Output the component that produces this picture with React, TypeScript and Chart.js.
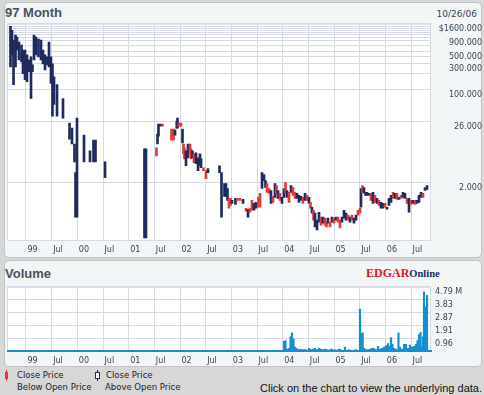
import React, { useEffect, useRef } from 'react';
import { Chart, registerables } from 'chart.js';

Chart.register(...registerables);

// x values: months since January 1999
const priceMonths = [
  -3.62, -3.27, -2.92, -2.45, -2.10, -1.64, -1.05, -0.70, -0.23, 0.23,
  0.70, 1.17, 1.52, 1.87, 2.34, 2.92, 3.51, 3.97, 4.44, 4.91,
  5.38, 5.84, 6.19, 6.55, 7.25, 8.65, 10.17, 10.75, 11.34, 11.57,
  11.92, 13.56, 14.96, 15.78, 16.25, 18.47, 27.70, 28.05,
  30.50, 30.74, 30.97, 31.44, 31.91, 34.01, 34.48, 34.83, 35.18, 35.41,
  35.76, 36.23, 36.58, 36.82, 37.05, 37.40, 37.87, 38.34, 38.57, 38.92,
  39.27, 39.74, 40.21, 40.67, 40.91, 41.49, 42.08, 42.54, 45.23, 45.70,
  46.40, 46.75, 47.10, 47.45, 47.80, 48.15, 48.97, 49.44, 50.02, 50.73,
  51.43, 51.89, 52.36, 52.83, 53.30, 53.76, 54.35, 54.70, 55.17, 55.63,
  55.98, 56.33, 56.80, 57.27, 57.74, 58.20, 58.56, 58.91, 59.37, 59.84,
  60.31, 60.66, 61.01, 61.48, 61.95, 62.41, 62.88, 63.35, 63.81, 64.28,
  64.75, 65.22, 65.68, 66.15, 66.50, 66.85, 67.20, 67.56, 68.02, 68.49,
  68.96, 69.43, 69.89, 70.24, 70.59, 71.06, 71.53, 72.00, 72.46, 72.93,
  73.40, 73.87, 74.33, 74.80, 75.27, 75.74, 76.20, 76.67, 77.14, 77.61,
  78.07, 78.31, 78.66, 79.01, 79.36, 79.71, 80.17, 80.64, 81.11, 81.58,
  82.05, 82.52, 82.98, 83.45, 83.92, 84.39, 84.85, 85.32, 85.79, 86.26,
  86.72, 87.19, 87.66, 88.13, 88.59, 89.06, 89.53, 90.00, 90.46, 90.93,
  91.40, 91.87, 92.33, 92.80, 93.27, 93.74,
];

const priceHighs = [
  1442, 1222, 807, 992, 913, 742, 655, 532, 532, 433,
  351, 398, 285, 992, 913, 840, 807, 532, 433, 398,
  742, 398, 297, 173, 124.5, 69.4, 24.6, 20.0, 10.26, 3.07,
  30.3, 14.9, 7.67, 12.1, 12.1, 4.85, 8.34, 8.34,
  8.69, 15.5, 23.6, 23.6, 23.6, 19.1, 19.1, 18.4, 26.7, 30.3,
  24.6, 24.6, 19.1, 10.26, 8.68, 7.67, 10.26, 10.26, 8.34, 7.67,
  6.77, 7.06, 5.73, 6.77, 5.50, 3.78, 3.34, 3.63, 4.11, 3.07,
  1.94, 1.94, 1.58, 1.044, 1.044, 0.96, 1.044, 1.044, 1.044, 1.00,
  0.689, 0.661, 0.689, 0.96, 0.848, 0.883, 1.087, 1.285, 3.07, 2.83,
  2.20, 1.94, 1.58, 1.455, 1.134, 1.94, 1.79, 1.455, 1.285, 1.087,
  1.58, 2.02, 1.455, 1.34, 1.79, 1.65, 1.34, 1.285, 1.182, 1.134,
  1.087, 1.285, 1.182, 1.087, 0.883, 0.718, 0.634, 0.560, 0.418, 0.583,
  0.474, 0.474, 0.455, 0.385, 0.455, 0.385, 0.474, 0.455, 0.474, 0.474,
  0.418, 0.474, 0.634, 0.560, 0.515, 0.474, 0.515, 0.455, 0.515, 0.634,
  0.689, 1.58, 1.79, 1.65, 1.34, 1.34, 1.285, 1.285, 1.34, 1.182,
  1.044, 0.96, 0.883, 0.848, 0.848, 0.718, 1.044, 1.182, 1.34, 1.285,
  1.285, 1.087, 1.182, 1.34, 1.285, 1.044, 1.044, 0.96, 0.96, 0.96,
  0.96, 1.182, 1.34, 1.285, 1.65, 1.79,
];

const priceLows = [
  262, 433, 124.5, 262, 532, 351, 323, 196, 153, 141,
  213, 69.4, 213, 351, 433, 398, 351, 297, 231, 285,
  262, 130, 32.9, 54.1, 32.9, 30.3, 12.6, 10.26, 4.85, 0.474,
  0.474, 4.85, 4.85, 4.85, 4.85, 2.49, 0.198, 0.198,
  6.23, 10.26, 14.3, 21.7, 21.7, 12.1, 12.1, 14.9, 20.0, 20.0,
  21.7, 21.7, 10.69, 6.77, 5.50, 4.11, 5.73, 6.77, 5.50, 5.73,
  4.66, 4.47, 3.34, 4.11, 3.78, 3.34, 2.39, 3.07, 3.07, 0.474,
  1.134, 1.134, 0.96, 0.689, 0.780, 0.848, 0.813, 0.96, 0.96, 0.848,
  0.608, 0.474, 0.583, 0.634, 0.634, 0.689, 0.718, 0.718, 1.58, 2.20,
  1.65, 1.34, 1.285, 0.848, 0.883, 1.087, 1.285, 1.044, 0.96, 0.848,
  1.087, 1.285, 1.087, 0.883, 1.34, 1.182, 1.044, 1.044, 0.883, 0.96,
  0.848, 0.96, 0.96, 0.848, 0.689, 0.560, 0.418, 0.313, 0.276, 0.385,
  0.340, 0.369, 0.340, 0.313, 0.369, 0.313, 0.385, 0.369, 0.418, 0.385,
  0.300, 0.385, 0.455, 0.418, 0.418, 0.385, 0.418, 0.369, 0.418, 0.515,
  0.560, 0.718, 1.285, 1.34, 1.182, 1.182, 1.182, 0.96, 0.848, 0.883,
  0.848, 0.780, 0.689, 0.689, 0.718, 0.661, 0.780, 0.883, 1.044, 1.044,
  1.00, 1.00, 1.044, 1.087, 1.044, 0.848, 0.583, 0.813, 0.848, 0.813,
  0.848, 0.883, 1.087, 1.087, 1.455, 1.52,
];

// 'u' = close above open, 'd' = close below open
const priceDirs = [
  'u', 'u', 'u', 'u', 'u', 'u', 'u', 'u', 'u', 'u',
  'u', 'u', 'u', 'u', 'u', 'u', 'u', 'u', 'u', 'u',
  'u', 'u', 'u', 'u', 'u', 'u', 'u', 'u', 'u', 'u',
  'u', 'u', 'u', 'u', 'u', 'u', 'u', 'u',
  'd', 'u', 'u', 'u', 'd', 'd', 'd', 'u', 'd', 'u',
  'd', 'd', 'u', 'd', 'd', 'u', 'u', 'd', 'd', 'u',
  'd', 'u', 'u', 'u', 'u', 'd', 'd', 'u', 'u', 'u',
  'u', 'u', 'u', 'd', 'd', 'u', 'u', 'd', 'd', 'u',
  'd', 'u', 'd', 'd', 'u', 'u', 'd', 'd', 'u', 'u',
  'u', 'd', 'd', 'u', 'd', 'u', 'd', 'u', 'd', 'u',
  'u', 'd', 'u', 'd', 'u', 'd', 'd', 'u', 'u', 'u',
  'd', 'u', 'd', 'u', 'd', 'u', 'd', 'u', 'u', 'u',
  'd', 'u', 'd', 'd', 'u', 'd', 'u', 'd', 'u', 'd',
  'd', 'u', 'u', 'u', 'd', 'u', 'd', 'u', 'u', 'd',
  'd', 'u', 'd', 'u', 'u', 'u', 'u', 'd', 'u', 'd',
  'u', 'd', 'u', 'u', 'd', 'u', 'u', 'u', 'd', 'u',
  'd', 'u', 'd', 'u', 'u', 'd', 'u', 'd', 'u', 'd',
  'u', 'u', 'u', 'd', 'u', 'u',
];

const volMonths = [
  60.31, 60.66, 61.01, 61.48, 61.83, 62.18, 62.53, 62.88, 63.23, 63.58,
  64.05, 64.52, 64.98, 65.45, 66.15, 66.62, 67.09, 67.55, 68.02, 68.49,
  68.96, 69.43, 69.89, 70.36, 71.06, 71.53, 72.23, 72.93, 73.40, 74.57,
  75.50, 77.14, 78.07, 78.38, 78.71, 79.01, 79.48, 79.94, 80.41, 80.88,
  81.35, 81.81, 82.28, 82.75, 83.22, 83.68, 84.15, 84.62, 84.97, 85.32,
  85.67, 86.02, 86.49, 87.07, 87.42, 87.89, 88.36, 88.83, 89.29, 89.76,
  90.23, 90.70, 91.16, 91.51, 91.87, 92.22, 92.57, 92.80, 93.03, 93.27,
  93.50, 93.74,
];

// volume, millions of shares
const volValues = [
  0.73, 0.77, 0.15, 0.2, 1.05, 1.36, 0.9, 0.3, 0.2, 0.1,
  0.12, 0.1, 0.1, 0.1, 0.2, 0.1, 0.15, 0.2, 0.1, 0.2,
  0.15, 0.1, 0.15, 0.1, 0.1, 0.15, 0.1, 0.1, 0.15, 0.3,
  0.1, 0.1, 3.12, 1.3, 1.36, 0.2, 0.1, 0.1, 0.15, 0.2,
  0.2, 0.1, 0.35, 0.15, 0.2, 0.3, 0.4, 0.55, 0.35, 1.0,
  0.5, 0.2, 0.15, 1.36, 0.3, 0.15, 0.5, 0.5, 0.2, 0.45,
  0.3, 0.35, 0.5, 0.77, 1.22, 1.4, 0.3, 1.06, 4.41, 3.3,
  1.7, 4.15,
];

const xTickMonths = [0, 6, 12, 18, 24, 30, 36, 42, 48, 54, 60, 66, 72, 78, 84, 90];
const xTickLabels = ['99', 'Jul', '00', 'Jul', '01', 'Jul', '02', 'Jul', '03', 'Jul', '04', 'Jul', '05', 'Jul', '06', 'Jul'];
const X_MIN = -4.44;
const X_MAX = 94.67;

const priceGridValues = [2, 26, 100, 200, 300, 400, 500, 650, 800, 900, 1000, 1100, 1200, 1300, 1400, 1600];
const priceTickValues = [2, 26, 100, 300, 500, 900, 1600];
const priceTickLabels = ['2.000', '26.000', '100.000', '300.000', '500.000', '900.000', '$1600.000'];
const PRICE_MIN = 0.174;
const PRICE_MAX = 1600;

const volTickValues = [0, 0.96, 1.91, 2.87, 3.83, 4.79];
const volTickLabels = ['', '0.96', '1.91', '2.87', '3.83', '4.79 M'];

const NAVY = '#1f2b5e';
const RED = '#e23a3a';
const VOL_BLUE = '#1490cf';
const GRID = '#d6dbe3';
const TICK_COLOR = '#3c4352';
const TICK_FONT = { family: "'DejaVu Sans', Verdana, sans-serif", size: 8 };

const plotArea = {
  id: 'plotArea',
  beforeDraw(chart: any) {
    const { ctx, chartArea: a } = chart;
    ctx.save();
    ctx.fillStyle = '#ffffff';
    ctx.fillRect(a.left, a.top, a.right - a.left, a.bottom - a.top);
    ctx.strokeStyle = GRID;
    ctx.lineWidth = 1;
    ctx.strokeRect(a.left + 0.5, a.top + 0.5, a.right - a.left - 1, a.bottom - a.top - 1);
    ctx.restore();
  },
};

function xScale(pad: number, border: any) {
  return {
    type: 'linear',
    min: X_MIN,
    max: X_MAX,
    offset: false,
    afterBuildTicks: (s: any) => {
      s.ticks = xTickMonths.map((v) => ({ value: v }));
    },
    afterFit: (s: any) => {
      s.height = 17;
    },
    grid: { color: GRID, lineWidth: 1, drawTicks: false, offset: false },
    border,
    ticks: {
      callback: (_v: any, i: number) => xTickLabels[i],
      align: 'start',
      labelOffset: 1.5,
      padding: pad,
      font: TICK_FONT,
      color: TICK_COLOR,
      autoSkip: false,
      maxRotation: 0,
      minRotation: 0,
    },
  };
}

function PriceChart() {
  const ref = useRef<HTMLCanvasElement>(null);
  useEffect(() => {
    const chart = new Chart(ref.current as HTMLCanvasElement, {
      type: 'bar',
      data: {
        datasets: [
          {
            data: priceMonths.map((m, i) => ({ x: m, y: [priceLows[i], priceHighs[i]] })) as any,
            backgroundColor: priceDirs.map((d) => (d === 'd' ? RED : NAVY)),
            barThickness: 2,
            minBarLength: 1.5,
            borderWidth: 0,
          },
        ],
      },
      options: {
        animation: false,
        responsive: false,
        maintainAspectRatio: false,
        layout: { padding: { top: 6, left: 0, right: 0, bottom: 0 } },
        plugins: { legend: { display: false }, tooltip: { enabled: false } },
        scales: {
          x: xScale(4, { display: false }) as any,
          y: {
            type: 'logarithmic',
            position: 'right',
            min: PRICE_MIN,
            max: PRICE_MAX,
            afterBuildTicks: (s: any) => {
              s.ticks = priceGridValues.map((v) => ({ value: v }));
            },
            afterFit: (s: any) => {
              s.width = 51;
            },
            grid: { color: GRID, lineWidth: 1, drawTicks: false },
            border: { display: false },
            ticks: {
              callback: (v: any) => {
                const k = priceTickValues.indexOf(Number(v));
                return k >= 0 ? priceTickLabels[k] : '';
              },
              crossAlign: 'far',
              labelOffset: 5,
              padding: 3,
              font: TICK_FONT,
              color: TICK_COLOR,
              autoSkip: false,
            },
          } as any,
        },
      },
      plugins: [plotArea],
    });
    return () => chart.destroy();
  }, []);
  return (
    <canvas
      ref={ref}
      width={475}
      height={242}
      style={{ position: 'absolute', left: 7, top: 16, width: 475, height: 242 }}
    />
  );
}

function VolumeChart() {
  const ref = useRef<HTMLCanvasElement>(null);
  useEffect(() => {
    const chart = new Chart(ref.current as HTMLCanvasElement, {
      type: 'bar',
      data: {
        datasets: [
          {
            data: volMonths.map((m, i) => ({ x: m, y: volValues[i] })) as any,
            backgroundColor: VOL_BLUE,
            barThickness: 1.5,
            borderWidth: 0,
          },
        ],
      },
      options: {
        animation: false,
        responsive: false,
        maintainAspectRatio: false,
        layout: { padding: { top: 5, left: 0, right: 0, bottom: 0 } },
        plugins: { legend: { display: false }, tooltip: { enabled: false } },
        scales: {
          x: xScale(5.5, { display: true, color: VOL_BLUE, width: 2 }) as any,
          y: {
            type: 'linear',
            position: 'right',
            min: 0,
            max: 4.79,
            afterBuildTicks: (s: any) => {
              s.ticks = volTickValues.map((v) => ({ value: v }));
            },
            afterFit: (s: any) => {
              s.width = 51;
            },
            grid: { color: GRID, lineWidth: 1, drawTicks: false },
            border: { display: false },
            ticks: {
              callback: (_v: any, i: number) => volTickLabels[i],
              crossAlign: 'near',
              labelOffset: 5.5,
              padding: 4,
              font: TICK_FONT,
              color: TICK_COLOR,
              autoSkip: false,
            },
          } as any,
        },
      },
      plugins: [plotArea],
    });
    return () => chart.destroy();
  }, []);
  return (
    <canvas
      ref={ref}
      width={475}
      height={90}
      style={{ position: 'absolute', left: 7, top: 278, width: 475, height: 90 }}
    />
  );
}

const panel: React.CSSProperties = {
  position: 'absolute',
  left: 4,
  width: 478,
  boxSizing: 'border-box',
  background: '#f2f6f6',
  border: '1px solid #bfc5c9',
  borderRadius: 5,
};

const abs: React.CSSProperties = { position: 'absolute', whiteSpace: 'nowrap', margin: 0 };
const VERDANA = "'DejaVu Sans', Verdana, sans-serif";
const ARIAL = "'Liberation Sans', Arial, sans-serif";

export default function App() {
  return (
    <div
      style={{
        position: 'absolute',
        left: 0,
        top: 0,
        width: 484,
        height: 395,
        background: '#d7d7d7',
        overflow: 'hidden',
        fontFamily: ARIAL,
      }}
    >
      <div style={{ ...panel, top: 2, height: 256 }} />
      <div
        style={{
          ...abs,
          left: 5,
          top: 6,
          fontFamily: ARIAL,
          fontWeight: 'bold',
          fontSize: 13,
          lineHeight: '13px',
          color: '#4a5161',
        }}
      >
        97 Month
      </div>
      <div
        style={{
          ...abs,
          right: 7,
          top: 9.5,
          fontFamily: VERDANA,
          fontSize: 9,
          lineHeight: '9px',
          color: TICK_COLOR,
        }}
      >
        10/26/06
      </div>
      <PriceChart />

      <div style={{ ...panel, top: 260, height: 107 }} />
      <div
        style={{
          ...abs,
          left: 5,
          top: 267,
          fontFamily: ARIAL,
          fontWeight: 'bold',
          fontSize: 13,
          lineHeight: '13px',
          color: '#4a5161',
        }}
      >
        Volume
      </div>
      <div
        style={{
          ...abs,
          left: 366,
          top: 265.5,
          fontFamily: "'Liberation Serif', 'Times New Roman', serif",
          fontWeight: 'bold',
          lineHeight: '12px',
        }}
      >
        <span style={{ color: '#e8151c', fontSize: 12 }}>EDGAR</span>
        <span style={{ color: '#1b2a6b', fontSize: 10.5 }}>Online</span>
      </div>
      <VolumeChart />

      {/* legend */}
      <div style={{ ...abs, left: 6, top: 370, width: 1, height: 11, background: RED }} />
      <div style={{ ...abs, left: 5, top: 372, width: 3, height: 7, background: RED }} />
      <div style={{ ...abs, left: 97, top: 370, width: 1, height: 11, background: NAVY }} />
      <div
        style={{
          ...abs,
          left: 95,
          top: 372,
          width: 5,
          height: 7,
          boxSizing: 'border-box',
          border: `1px solid ${NAVY}`,
          background: '#ffffff',
        }}
      />
      {[
        { left: 17, top: 370, text: 'Close Price' },
        { left: 17, top: 382, text: 'Below Open Price' },
        { left: 106, top: 370, text: 'Close Price' },
        { left: 105, top: 382, text: 'Above Open Price' },
      ].map((t, i) => (
        <div
          key={i}
          style={{
            ...abs,
            left: t.left,
            top: t.top,
            fontFamily: VERDANA,
            fontSize: 8.5,
            lineHeight: '10px',
            color: '#222222',
          }}
        >
          {t.text}
        </div>
      ))}
      <div
        style={{
          ...abs,
          right: 2,
          top: 382,
          fontFamily: ARIAL,
          fontSize: 11,
          lineHeight: '12px',
          color: '#111111',
        }}
      >
        Click on the chart to view the underlying data.
      </div>
    </div>
  );
}
